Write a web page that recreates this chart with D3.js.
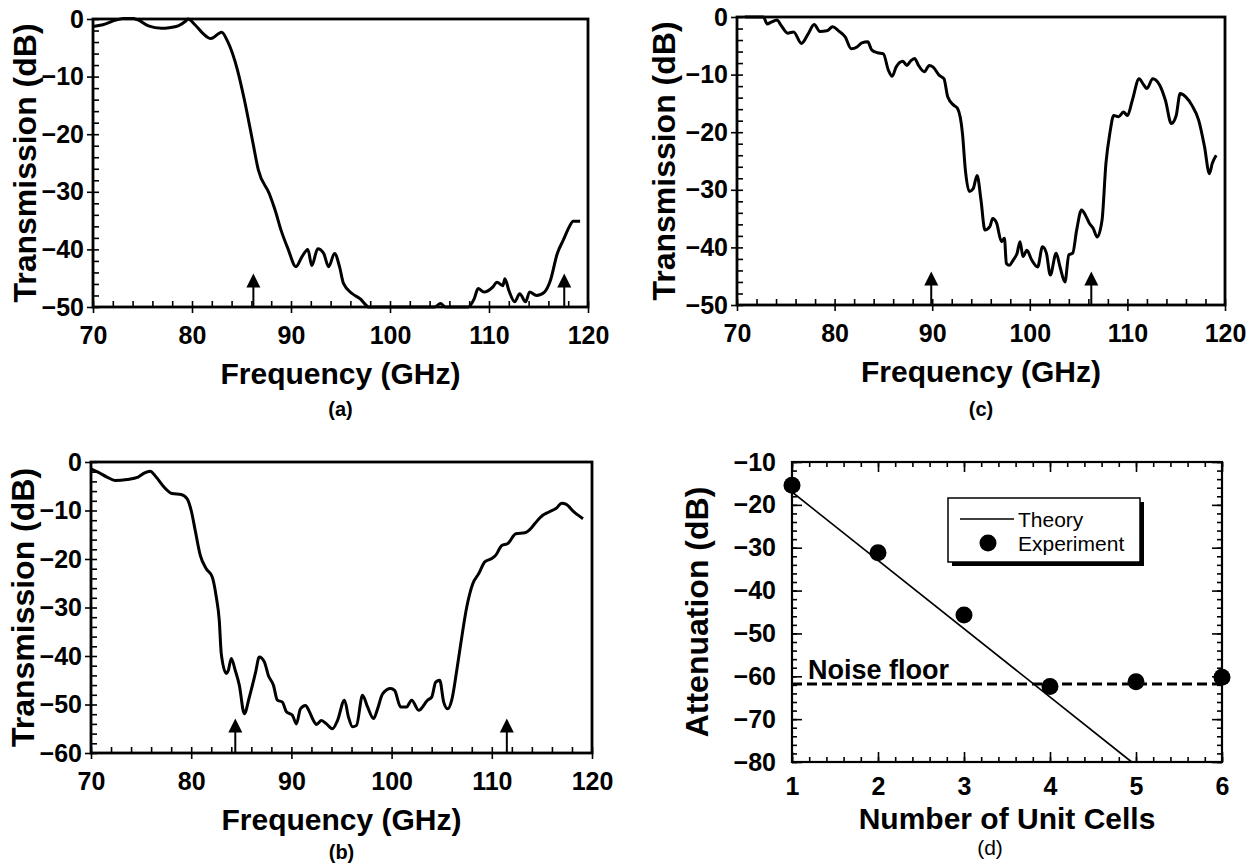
<!DOCTYPE html>
<html>
<head>
<meta charset="utf-8">
<script src="https://cdn.jsdelivr.net/npm/d3@7"></script>
<style>
  body { margin: 0; background: #fff; }
  text { font-family: "Liberation Sans", Arial, Helvetica, sans-serif; fill: #000; }
</style>
</head>
<body>
<svg id="fig" width="1255" height="863"></svg>
<script>
// panel (a)
const freqA = [70, 71, 72.3, 73.6, 74.6, 75.6, 76.9, 77.7, 78.6, 79.4, 79.6, 80.3, 81.1, 81.9, 83, 83.6, 84.6, 85.3, 86.1, 86.7,
    87.8, 88.4, 89, 89.7, 90.5, 91.1, 91.7, 92.1, 92.7, 93.3, 93.8, 94.4, 94.9, 95.3, 96.2, 97, 97.6, 97.8, 100, 103,
    104.5, 105.1, 105.6, 107.9, 108.5, 108.9, 109.5, 110.4, 110.8, 111.4, 111.6, 112, 112.6, 113.1, 113.7, 114.1, 114.8, 115.6, 116.2, 116.9,
    117.5, 118.1, 118.5, 119.2];
const transA = [-1.3, -1.0, -0.2, 0.2, -0.2, -1.2, -1.6, -1.5, -1.2, -0.3, 0, -1.0, -2.5, -3.4, -2.3, -3.9, -8.9, -14.1, -21, -26.2,
    -30.3, -33.2, -36.7, -39.9, -43.0, -41.3, -40.0, -42.8, -39.9, -40.7, -43.0, -40.7, -43.0, -45.9, -47.7, -48.6, -49.7, -50, -50, -50,
    -50, -49.4, -50, -50, -48.6, -46.8, -47.4, -46.5, -45.7, -46.3, -45.1, -47.1, -49.1, -47.7, -49.1, -47.4, -48.0, -47.4, -45.4, -40.7,
    -38.4, -36.1, -35.1, -35.1];
const arrowFreqA = [86.2, 117.6];
const arrowTipA = -44.2;

// panel (b)
const freqB = [70, 70.7, 71.6, 72.4, 73.6, 74.7, 75.3, 75.9, 76.5, 77.3, 78.1, 79, 79.6, 80, 80.4, 80.9, 81.5, 82.1, 82.5, 82.8,
    83, 83.5, 83.7, 84, 84.4, 84.8, 85.3, 85.8, 86.4, 86.8, 87.3, 87.7, 88.2, 88.6, 89.1, 89.5, 90.1, 90.5, 90.9, 91.4,
    91.8, 92.2, 92.5, 93, 93.5, 94.1, 94.6, 95.3, 95.7, 96.1, 96.5, 97.1, 97.6, 98.2, 98.6, 99.1, 99.9, 100.3, 100.9, 101.5,
    102, 102.7, 103.6, 104, 104.4, 104.8, 105.2, 105.6, 106, 106.5, 106.9, 107.5, 108.1, 108.7, 109.3, 110, 110.4, 111, 111.6, 112.4,
    113.3, 113.9, 114.3, 114.9, 115.7, 116.4, 117, 117.4, 118.2, 119.1];
const transB = [-1.4, -2.1, -3.1, -3.8, -3.6, -3.1, -2.3, -1.9, -3.1, -5.2, -6.5, -6.7, -7.6, -10.0, -14.1, -19.2, -22.0, -23.7, -27.8, -32.6,
    -39.5, -43.6, -43.0, -40.5, -43.0, -46.0, -51.9, -48.5, -43.6, -40.2, -41.2, -44.0, -46.0, -49.1, -49.5, -51.5, -52.2, -54.0, -50.9, -50.2,
    -51.5, -53.3, -54.1, -53.3, -54.0, -55.0, -53.3, -49.1, -52.6, -54.6, -54.3, -48.1, -50.5, -52.9, -50.9, -47.8, -46.7, -47.1, -50.5, -50.5,
    -49.1, -51.2, -49.1, -48.5, -45.4, -45.0, -49.5, -50.9, -49.1, -43.0, -37.5, -29.9, -25.1, -23.0, -20.6, -19.9, -19.2, -17.2, -16.8, -14.8,
    -14.6, -13.7, -12.7, -11.3, -10.3, -9.6, -8.5, -8.7, -10.3, -11.7];
const arrowFreqB = [84.4, 111.5];
const arrowTipB = -52.9;

// panel (c)
const freqC = [70.8, 71.6, 72.7, 73.1, 73.5, 74.1, 74.5, 75.2, 75.8, 76.6, 77.3, 77.9, 78.5, 79.2, 79.8, 80.4, 81.1, 81.7, 82.3, 82.8,
    83.4, 83.8, 84.4, 85, 85.5, 85.9, 86.3, 87, 87.4, 87.8, 88.2, 88.6, 89.2, 89.7, 90.1, 90.7, 91.2, 91.6, 92.2, 92.6,
    93.1, 93.4, 93.8, 94.2, 94.6, 95, 95.4, 95.9, 96.2, 96.6, 97.1, 97.4, 97.6, 97.9, 98.3, 98.7, 99, 99.3, 99.7, 100.2,
    100.8, 101.3, 101.7, 102.1, 102.7, 103.1, 103.6, 104, 104.4, 104.8, 105.3, 105.7, 106.1, 106.5, 106.9, 107.4, 107.8, 108.2, 108.6, 109.1,
    109.6, 110, 110.5, 111.2, 111.6, 112, 112.6, 113.3, 113.9, 114.5, 115, 115.4, 116, 116.6, 117.3, 117.9, 118.4, 118.7, 119.1];
const transC = [0, 0, 0, -1.2, -0.9, -0.5, -1.4, -2.8, -2.6, -4.6, -2.9, -1.3, -2.5, -2.4, -1.7, -2.4, -3.5, -5.5, -5.2, -4.5,
    -4.3, -5.7, -6.2, -6.4, -9.2, -10.3, -8.7, -7.7, -8.4, -7.6, -7.2, -8.4, -9.5, -8.4, -8.7, -10.1, -10.7, -13.9, -15.3, -15.9,
    -20.2, -26.6, -30.3, -29.8, -27.5, -31.8, -37.0, -36.4, -35.0, -35.8, -39.0, -38.4, -42.8, -43.1, -42.2, -41.0, -39.0, -41.6, -40.5, -42.2,
    -43.4, -39.9, -41.0, -44.8, -41.0, -43.4, -46.0, -41.3, -41.0, -37.0, -33.5, -34.4, -35.8, -36.7, -38.2, -35.3, -25.4, -20.2, -17.1, -17.3,
    -16.5, -17.1, -14.5, -10.7, -11.6, -12.4, -10.7, -11.8, -14.5, -18.5, -17.1, -13.3, -13.9, -15.3, -17.9, -22.5, -27.2, -25.4, -24.0];
const arrowFreqC = [89.9, 106.3];
const arrowTipC = -44.2;

// panel (d)
const cells = [1, 2, 3, 4, 5, 6];
const attenExp = [-15.4, -31.2, -45.7, -62.4, -61.3, -60.2];
const theoryCells = [1, 4.95];
const theoryAtten = [-17, -80];
const noiseFloor = -61.8;

const freqTicks = [70, 80, 90, 100, 110, 120];
const dbTicks50 = [0, -10, -20, -30, -40, -50];
const dbTicks60 = [0, -10, -20, -30, -40, -50, -60];
const attenTicks = [-10, -20, -30, -40, -50, -60, -70, -80];

const svg = d3.select('#fig');
const font = '"Liberation Sans", Arial, Helvetica, sans-serif';

function drawSpectrum(cfg) {
    const x = d3.scaleLinear().domain([70, 120]).range([cfg.left, cfg.right]);
    const y = d3.scaleLinear().domain(cfg.yDomain).range([cfg.bottom, cfg.top]);
    const g = svg.append('g');

    const minorX = d3.range(70, 120.01, 2);
    const minorY = d3.range(cfg.yDomain[0], cfg.yDomain[1] + 0.01, 2);

    // inward minor + major ticks
    g.append('g').attr('transform', `translate(0,${cfg.bottom})`)
        .call(d3.axisBottom(x).tickValues(minorX).tickSize(-6).tickSizeOuter(0).tickFormat(''));
    g.append('g').attr('transform', `translate(${cfg.left},0)`)
        .call(d3.axisLeft(y).tickValues(minorY).tickSize(-6).tickSizeOuter(0).tickFormat(''));
    // major ticks sticking out, with labels
    g.append('g').attr('transform', `translate(0,${cfg.bottom})`)
        .call(d3.axisBottom(x).tickValues(freqTicks).tickSize(6).tickSizeOuter(0).tickPadding(13).tickFormat(d3.format('d')))
        .attr('class', 'lab');
    g.append('g').attr('transform', `translate(${cfg.left},0)`)
        .call(d3.axisLeft(y).tickValues(cfg.yTicks).tickSize(6).tickSizeOuter(0).tickPadding(3).tickFormat(d3.format('d')))
        .attr('class', 'lab');
    g.selectAll('.domain').remove();
    g.selectAll('.tick line').attr('stroke', '#000').attr('stroke-width', 1.6);
    g.selectAll('.lab text').attr('font-family', font).attr('font-weight', 'bold')
        .attr('font-size', 25).attr('fill', '#000');

    // frame
    g.append('rect').attr('x', cfg.left).attr('y', cfg.top)
        .attr('width', cfg.right - cfg.left).attr('height', cfg.bottom - cfg.top)
        .attr('fill', 'none').attr('stroke', '#000').attr('stroke-width', 2.8);

    const clipId = 'clip' + cfg.name;
    svg.append('clipPath').attr('id', clipId).append('rect')
        .attr('x', cfg.left - 2).attr('y', cfg.top - 2)
        .attr('width', cfg.right - cfg.left + 4).attr('height', cfg.bottom - cfg.top + 4);

    const line = d3.line().x(d => x(d[0])).y(d => y(d[1])).curve(d3.curveMonotoneX);
    g.append('path').datum(d3.zip(cfg.freq, cfg.trans))
        .attr('clip-path', `url(#${clipId})`)
        .attr('d', line).attr('fill', 'none').attr('stroke', '#000')
        .attr('stroke-width', 3).attr('stroke-linejoin', 'round');

    // band edge arrows
    cfg.arrows.forEach(f => {
        const ax = x(f), tip = y(cfg.arrowTip);
        g.append('line').attr('x1', ax).attr('x2', ax).attr('y1', cfg.bottom).attr('y2', tip + 10)
            .attr('stroke', '#000').attr('stroke-width', 2);
        g.append('path').attr('d', `M${ax},${tip} L${ax - 7},${tip + 14} L${ax + 7},${tip + 14} Z`)
            .attr('fill', '#000');
    });

    const midX = (cfg.left + cfg.right) / 2;
    g.append('text').attr('x', midX).attr('y', cfg.bottom + 77)
        .attr('text-anchor', 'middle').attr('font-weight', 'bold').attr('font-size', 30)
        .text('Frequency (GHz)');
    g.append('text').attr('x', midX).attr('y', cfg.bottom + cfg.letterDy)
        .attr('text-anchor', 'middle').attr('font-weight', 'bold').attr('font-size', 20)
        .text(cfg.letter);
    g.append('text')
        .attr('transform', `translate(${cfg.left - cfg.ylabDx},${(cfg.top + cfg.bottom) / 2}) rotate(-90)`)
        .attr('text-anchor', 'middle').attr('font-weight', 'bold').attr('font-size', 32)
        .text('Transmission (dB)');
}

drawSpectrum({ name: 'a', left: 93, right: 588, top: 19, bottom: 307, yDomain: [-50, 0], yTicks: dbTicks50,
    freq: freqA, trans: transA, arrows: arrowFreqA, arrowTip: arrowTipA, letter: '(a)', letterDy: 109, ylabDx: 57 });
drawSpectrum({ name: 'c', left: 737, right: 1225, top: 17, bottom: 305, yDomain: [-50, 0], yTicks: dbTicks50,
    freq: freqC, trans: transC, arrows: arrowFreqC, arrowTip: arrowTipC, letter: '(c)', letterDy: 111, ylabDx: 62 });
drawSpectrum({ name: 'b', left: 91, right: 592, top: 462, bottom: 753, yDomain: [-60, 0], yTicks: dbTicks60,
    freq: freqB, trans: transB, arrows: arrowFreqB, arrowTip: arrowTipB, letter: '(b)', letterDy: 106, ylabDx: 57 });

// panel (d): attenuation vs number of cells
(function () {
    const left = 792, right = 1222, top = 462, bottom = 762;
    const x = d3.scaleLinear().domain([1, 6]).range([left, right]);
    const y = d3.scaleLinear().domain([-80, -10]).range([bottom, top]);
    const g = svg.append('g');

    const minorX = d3.range(1, 6.001, 0.2);
    const minorY = d3.range(-80, -9.99, 2);

    g.append('g').attr('transform', `translate(0,${bottom})`)
        .call(d3.axisBottom(x).tickValues(minorX).tickSize(-5).tickSizeOuter(0).tickFormat(''));
    g.append('g').attr('transform', `translate(0,${top})`)
        .call(d3.axisTop(x).tickValues(minorX).tickSize(-5).tickSizeOuter(0).tickFormat(''));
    g.append('g').attr('transform', `translate(${left},0)`)
        .call(d3.axisLeft(y).tickValues(minorY).tickSize(-5).tickSizeOuter(0).tickFormat(''));
    g.append('g').attr('transform', `translate(${right},0)`)
        .call(d3.axisRight(y).tickValues(minorY).tickSize(-5).tickSizeOuter(0).tickFormat(''));
    // majors (longer, inward)
    g.append('g').attr('transform', `translate(0,${bottom})`)
        .call(d3.axisBottom(x).tickValues(cells).tickSize(-10).tickSizeOuter(0).tickPadding(15).tickFormat(d3.format('d')))
        .attr('class', 'lab');
    g.append('g').attr('transform', `translate(0,${top})`)
        .call(d3.axisTop(x).tickValues(cells).tickSize(-10).tickSizeOuter(0).tickFormat(''));
    g.append('g').attr('transform', `translate(${left},0)`)
        .call(d3.axisLeft(y).tickValues(attenTicks).tickSize(-10).tickSizeOuter(0).tickPadding(16).tickFormat(d3.format('d')))
        .attr('class', 'lab');
    g.append('g').attr('transform', `translate(${right},0)`)
        .call(d3.axisRight(y).tickValues(attenTicks).tickSize(-10).tickSizeOuter(0).tickFormat(''));
    g.selectAll('.domain').remove();
    g.selectAll('.tick line').attr('stroke', '#000').attr('stroke-width', 1.6);
    g.selectAll('.lab text').attr('font-family', font).attr('font-weight', 'bold')
        .attr('font-size', 25).attr('fill', '#000');

    g.append('rect').attr('x', left).attr('y', top).attr('width', right - left).attr('height', bottom - top)
        .attr('fill', 'none').attr('stroke', '#000').attr('stroke-width', 2.2);

    // noise floor
    g.append('line').attr('x1', left).attr('x2', right).attr('y1', y(noiseFloor)).attr('y2', y(noiseFloor))
        .attr('stroke', '#000').attr('stroke-width', 3).attr('stroke-dasharray', '10,5');
    g.append('text').attr('x', left + 16).attr('y', y(noiseFloor) - 5)
        .attr('font-weight', 'bold').attr('font-size', 27).text('Noise floor');

    // theory line
    g.append('path').datum(d3.zip(theoryCells, theoryAtten))
        .attr('d', d3.line().x(d => x(d[0])).y(d => y(d[1])))
        .attr('fill', 'none').attr('stroke', '#000').attr('stroke-width', 1.6);

    // experiment
    g.selectAll('circle.exp').data(d3.zip(cells, attenExp)).enter()
        .append('circle').attr('class', 'exp')
        .attr('cx', d => x(d[0])).attr('cy', d => y(d[1])).attr('r', 8.5).attr('fill', '#000');

    // legend with shadow
    const lx = 948, ly = 498, lw = 192, lh = 64;
    g.append('rect').attr('x', lx + 4).attr('y', ly + 4).attr('width', lw).attr('height', lh).attr('fill', '#000');
    g.append('rect').attr('x', lx).attr('y', ly).attr('width', lw).attr('height', lh)
        .attr('fill', '#fff').attr('stroke', '#000').attr('stroke-width', 1.5);
    g.append('line').attr('x1', lx + 12).attr('x2', lx + 66).attr('y1', ly + 21).attr('y2', ly + 21)
        .attr('stroke', '#000').attr('stroke-width', 1.6);
    g.append('text').attr('x', lx + 70).attr('y', ly + 29).attr('font-size', 21).text('Theory');
    g.append('circle').attr('cx', lx + 40).attr('cy', ly + 45).attr('r', 8.5).attr('fill', '#000');
    g.append('text').attr('x', lx + 70).attr('y', ly + 53).attr('font-size', 21).text('Experiment');

    g.append('text').attr('x', (left + right) / 2).attr('y', bottom + 67)
        .attr('text-anchor', 'middle').attr('font-weight', 'bold').attr('font-size', 30)
        .text('Number of Unit Cells');
    g.append('text').attr('x', 990).attr('y', bottom + 93)
        .attr('text-anchor', 'middle').attr('font-size', 21).text('(d)');
    g.append('text')
        .attr('transform', `translate(${left - 84},${(top + bottom) / 2}) rotate(-90)`)
        .attr('text-anchor', 'middle').attr('font-weight', 'bold').attr('font-size', 32)
        .text('Attenuation (dB)');
})();
</script>
</body>
</html>
